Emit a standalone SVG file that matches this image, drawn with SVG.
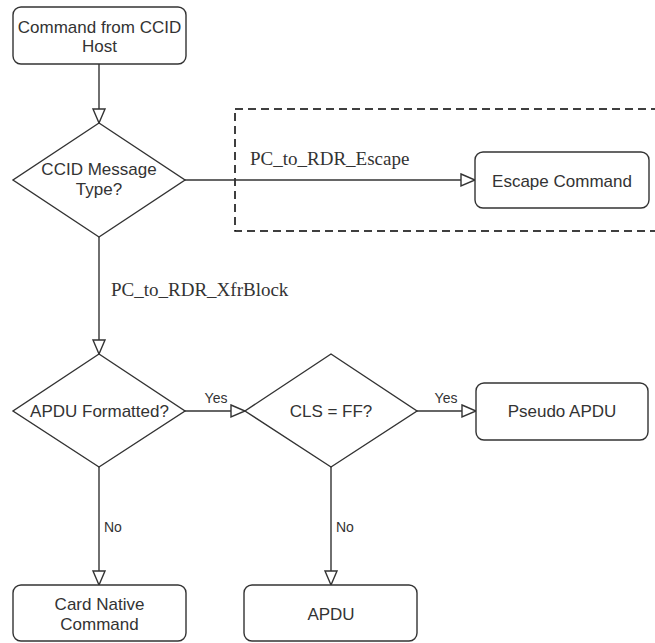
<svg xmlns="http://www.w3.org/2000/svg" width="655" height="643" viewBox="0 0 655 643">
<style>
.shape{fill:#fff;stroke:#333;stroke-width:1.4}
.t{font-family:"Liberation Sans",Arial,sans-serif;font-size:17px;fill:#333;text-anchor:middle}
.lbl{font-family:"Liberation Sans",Arial,sans-serif;font-size:14px;fill:#333}
.serif{font-family:"Liberation Serif","Times New Roman",serif;font-size:19px;fill:#333}
.edge{fill:none;stroke:#333;stroke-width:1.4;marker-end:url(#arr)}
</style>
<defs>
<marker id="arr" markerUnits="userSpaceOnUse" markerWidth="18" markerHeight="16" viewBox="-2 -2 18 16" refX="14" refY="6" orient="auto">
<path d="M0,0 L14,6 L0,12 Z" fill="#fff" stroke="#333" stroke-width="1.4"/>
</marker>
</defs>
<rect width="655" height="643" fill="#fff"/>
<g id="escape-group">
<rect x="235" y="109" width="430" height="122" fill="none" stroke="#000" stroke-width="1.5" stroke-dasharray="8 5"/>
</g>
<g id="connectors">
<line class="edge" x1="99" y1="64" x2="99" y2="123"/>
<line class="edge" x1="185" y1="180" x2="475" y2="180"/>
<line class="edge" x1="99" y1="237" x2="99" y2="354"/>
<line class="edge" x1="185" y1="411" x2="245" y2="411"/>
<line class="edge" x1="417" y1="411" x2="476" y2="411"/>
<line class="edge" x1="99" y1="467" x2="99" y2="585"/>
<line class="edge" x1="331" y1="467" x2="331" y2="585"/>
<text class="serif" x="250" y="165">PC_to_RDR_Escape</text>
<text class="serif" x="111" y="296">PC_to_RDR_XfrBlock</text>
<text class="lbl" x="216" y="403" text-anchor="middle">Yes</text>
<text class="lbl" x="446" y="403" text-anchor="middle">Yes</text>
<text class="lbl" x="104" y="532">No</text>
<text class="lbl" x="336" y="532">No</text>
</g>
<g id="start">
<rect class="shape" x="13" y="7" width="173" height="57" rx="8"/>
<text class="t" x="99.5" y="33">Command from CCID</text>
<text class="t" x="99.5" y="52">Host</text>
</g>
<g id="msg-type">
<polygon class="shape" points="99,123 185,180 99,237 13,180"/>
<text class="t" x="99" y="175">CCID Message</text>
<text class="t" x="99" y="195">Type?</text>
</g>
<g id="escape-command">
<rect class="shape" x="475" y="152" width="174" height="56" rx="8"/>
<text class="t" x="562" y="187">Escape Command</text>
</g>
<g id="apdu-formatted">
<polygon class="shape" points="99,354 185,411 99,467 13,411"/>
<text class="t" x="99.5" y="417">APDU Formatted?</text>
</g>
<g id="cls-ff">
<polygon class="shape" points="331,354 417,411 331,467 245,411"/>
<text class="t" x="331" y="417">CLS = FF?</text>
</g>
<g id="pseudo-apdu">
<rect class="shape" x="476" y="383" width="172" height="57" rx="8"/>
<text class="t" x="562" y="417">Pseudo APDU</text>
</g>
<g id="card-native">
<rect class="shape" x="13" y="585" width="173" height="56" rx="8"/>
<text class="t" x="99.5" y="610">Card Native</text>
<text class="t" x="99.5" y="630">Command</text>
</g>
<g id="apdu">
<rect class="shape" x="244" y="585" width="173" height="56" rx="8"/>
<text class="t" x="331" y="620">APDU</text>
</g>
</svg>
